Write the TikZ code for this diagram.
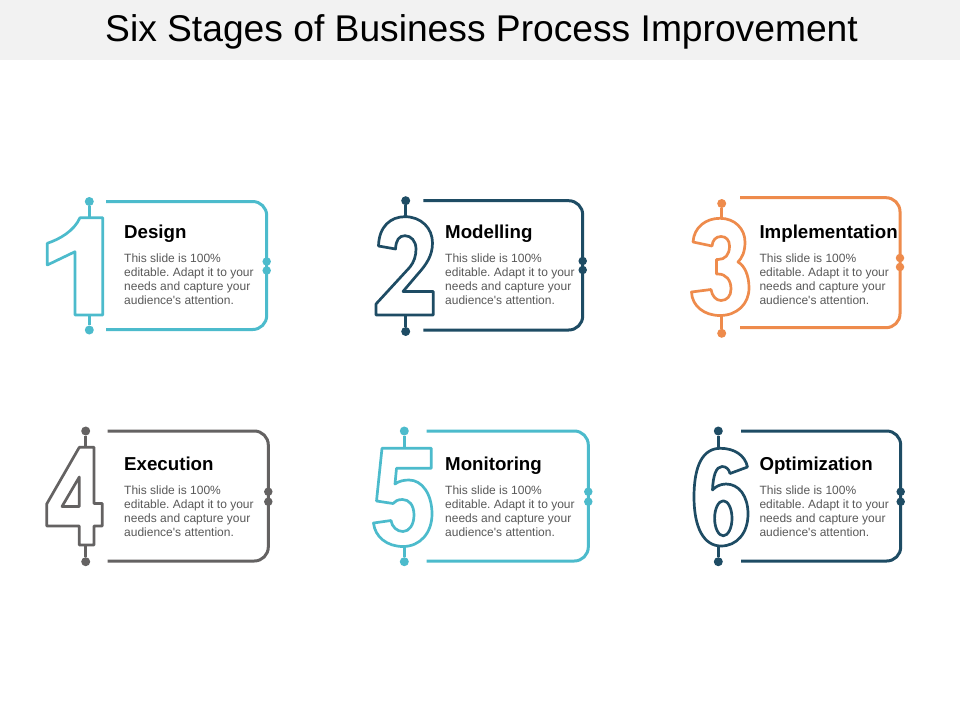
\documentclass[tikz,border=0pt]{standalone}
\usepackage{fontspec}
\setmainfont{Liberation Sans}
\frenchspacing
\definecolor{cteal}{RGB}{76,187,204}
\definecolor{cnavy}{RGB}{30,76,100}
\definecolor{corange}{RGB}{238,139,76}
\definecolor{cgray}{RGB}{100,98,98}
\definecolor{bodygray}{RGB}{89,89,89}
\definecolor{bandgray}{RGB}{242,242,242}
\tikzset{
  cardline/.style={line width=3pt, rounded corners=14pt},
  digitline/.style={line width=2.7pt, line join=round},
  stemline/.style={line width=2.7pt},
  dotnode/.style={circle, fill=#1, draw=none, inner sep=0pt, minimum size=9pt},
  sidedot/.style={circle, fill=#1, draw=none, inner sep=0pt, minimum size=8.5pt},
  ttl/.style={anchor=base west, inner sep=0pt, font=\fontsize{18.7}{22}\selectfont\bfseries, text=black},
  bodytxt/.style={anchor=base west, inner sep=0pt, font=\fontsize{12}{14}\selectfont, text=bodygray},
}
\newcommand{\cardbody}[3]{%
  \node[bodytxt] (#1a) at (#2,#3) {This slide is 100\%};
  \node[bodytxt] (#1b) at (#2,#3+14.1) {editable. Adapt it to your};
  \node[bodytxt] (#1c) at (#2,#3+28.2) {needs and capture your};
  \node[bodytxt] (#1d) at (#2,#3+42.3) {audience\textquotesingle s attention.};
}
\begin{document}
\begin{tikzpicture}[x=1pt,y=-1pt]
\useasboundingbox (0,0) rectangle (960,720);
\fill[white] (0,0) rectangle (960,720);
\fill[bandgray] (0,0) rectangle (960,60);
\node[font=\fontsize{37.2}{42}\selectfont, anchor=base, inner sep=0pt] (title) at (481.5,41.7) {Six Stages of Business Process Improvement};

% ---------- Card 1 ----------
\coordinate (r1a) at (106,201.5);
\coordinate (r1b) at (266.7,201.5);
\coordinate (r1c) at (266.7,329.5);
\coordinate (r1d) at (106,329.5);
\draw[cardline, cteal] (r1a) -- (r1b) -- (r1c) -- (r1d);
\node[sidedot=cteal] (s1a) at (266.7,261.5) {};
\node[sidedot=cteal] (s1b) at (266.7,270.5) {};
\node[dotnode=cteal] (d1t) at (89.3,201.5) {};
\node[dotnode=cteal] (d1b) at (89.3,330) {};
\coordinate (g1t) at (89.3,217.7);
\coordinate (g1b) at (89.3,315);
\draw[stemline, cteal] (d1t) -- (g1t);
\draw[stemline, cteal] (g1b) -- (d1b);
\draw[digitline, cteal] (80,217.7) -- (102.7,217.7) -- (102.7,315) -- (75,315) -- (75,251.7) -- (47.3,265) -- (47.3,243.3)
  .. controls (60,239) and (74,231) .. (80,217.7) -- cycle;
\node[ttl] (t1) at (124,238.3) {Design};
\cardbody{b1}{124}{262.3}

% ---------- Card 2 ----------
\coordinate (r2a) at (423.3,200.7);
\coordinate (r2b) at (582.7,200.7);
\coordinate (r2c) at (582.7,330);
\coordinate (r2d) at (423.3,330);
\draw[cardline, cnavy] (r2a) -- (r2b) -- (r2c) -- (r2d);
\node[sidedot=cnavy] (s2a) at (582.7,261) {};
\node[sidedot=cnavy] (s2b) at (582.7,270) {};
\node[dotnode=cnavy] (d2t) at (405.7,200.7) {};
\node[dotnode=cnavy] (d2b) at (405.7,331.5) {};
\coordinate (g2t) at (405.7,216.7);
\coordinate (g2b) at (405.7,315);
\draw[stemline, cnavy] (d2t) -- (g2t);
\draw[stemline, cnavy] (g2b) -- (d2b);
\draw[digitline, cnavy] (378.5,246) .. controls (379,226) and (391,216.7) .. (405,216.7)
  .. controls (421,216.7) and (432.5,228) .. (432.5,243)
  .. controls (432.5,256) and (426,265) .. (417,275)
  -- (403,291.5) -- (433.3,291.5) -- (433.3,315) -- (376,315) -- (376,304)
  -- (410,267) .. controls (414,262) and (416,256) .. (416,249)
  .. controls (416,241) and (411,235.7) .. (405,235.7)
  .. controls (399,235.7) and (396,240) .. (395.5,249) -- cycle;
\node[ttl] (t2) at (445,238.3) {Modelling};
\cardbody{b2}{445}{262.3}

% ---------- Card 3 ----------
\coordinate (r3a) at (740,197.7);
\coordinate (r3b) at (900,197.7);
\coordinate (r3c) at (900,327.7);
\coordinate (r3d) at (740,327.7);
\draw[cardline, corange] (r3a) -- (r3b) -- (r3c) -- (r3d);
\node[sidedot=corange] (s3a) at (900,258) {};
\node[sidedot=corange] (s3b) at (900,267) {};
\node[dotnode=corange] (d3t) at (721.7,203.5) {};
\node[dotnode=corange] (d3b) at (721.7,333.3) {};
\coordinate (g3t) at (721.7,218.3);
\coordinate (g3b) at (721.7,315.5);
\draw[stemline, corange] (d3t) -- (g3t);
\draw[stemline, corange] (g3b) -- (d3b);
\draw[digitline, corange] (693,242) .. controls (694,227) and (706,218.3) .. (720,218.3)
  .. controls (735,218.3) and (745,229) .. (745,242)
  .. controls (745,252) and (742,258) .. (738,262)
  .. controls (745,266) and (749,276) .. (749,288)
  .. controls (749,304) and (737,315.5) .. (720,315.5)
  .. controls (704,315.5) and (692,306) .. (691.5,292)
  -- (711,289.5)
  .. controls (712,296) and (716,300.5) .. (721,300.5)
  .. controls (727,300.5) and (731,296) .. (731,289)
  .. controls (731,280) and (726,274) .. (718,274)
  -- (716.5,274) -- (716.5,259.5) -- (718,259.5)
  .. controls (725,259.5) and (729.5,255) .. (729.5,246)
  .. controls (729.5,240) and (726,236.5) .. (721,236.5)
  .. controls (716,236.5) and (712.5,240) .. (712,246) -- cycle;
\node[ttl] (t3) at (759.3,238.3) {Implementation};
\cardbody{b3}{759.3}{262.3}

% ---------- Card 4 ----------
\coordinate (r4a) at (107.7,431);
\coordinate (r4b) at (268.3,431);
\coordinate (r4c) at (268.3,561);
\coordinate (r4d) at (107.7,561);
\draw[cardline, cgray] (r4a) -- (r4b) -- (r4c) -- (r4d);
\node[sidedot=cgray] (s4a) at (268.3,491.7) {};
\node[sidedot=cgray] (s4b) at (268.3,501.7) {};
\node[dotnode=cgray] (d4t) at (85.7,431) {};
\node[dotnode=cgray] (d4b) at (85.7,561.7) {};
\coordinate (g4t) at (85.7,447.3);
\coordinate (g4b) at (85.7,545);
\draw[stemline, cgray] (d4t) -- (g4t);
\draw[stemline, cgray] (g4b) -- (d4b);
\draw[digitline, cgray] (79.3,447.3) -- (94,447.3) -- (94,503.5) -- (102.3,503.5) -- (102.3,526) -- (94,526) -- (94,545)
  -- (79.3,545) -- (79.3,526) -- (46.7,526) -- (46.7,504) -- cycle
  (79.3,477) -- (79.3,506.5) -- (62,506.5) -- cycle;
\node[ttl] (t4) at (124,470) {Execution};
\cardbody{b4}{124}{494.3}

% ---------- Card 5 ----------
\coordinate (r5a) at (426.7,431);
\coordinate (r5b) at (588.3,431);
\coordinate (r5c) at (588.3,561);
\coordinate (r5d) at (426.7,561);
\draw[cardline, cteal] (r5a) -- (r5b) -- (r5c) -- (r5d);
\node[sidedot=cteal] (s5a) at (588.3,491.7) {};
\node[sidedot=cteal] (s5b) at (588.3,501.7) {};
\node[dotnode=cteal] (d5t) at (404.3,431) {};
\node[dotnode=cteal] (d5b) at (404.3,561.7) {};
\coordinate (g5t) at (404.3,448.3);
\coordinate (g5b) at (404.3,546.5);
\draw[stemline, cteal] (d5t) -- (g5t);
\draw[stemline, cteal] (g5b) -- (d5b);
\draw[digitline, cteal] (382,448.3) -- (431.3,448.3) -- (431.3,468.3) -- (396.5,468.3) -- (395,484)
  .. controls (399,481) and (404,480) .. (409,480)
  .. controls (422,480) and (432,494) .. (432,514)
  .. controls (432,533) and (420,546.5) .. (403,546.5)
  .. controls (387,546.5) and (375,537) .. (373.5,523)
  -- (391,520.5)
  .. controls (392,527) and (397,531.5) .. (403,531.5)
  .. controls (409,531.5) and (414,525) .. (414,515)
  .. controls (414,505) and (409,499.5) .. (402.5,499.5)
  .. controls (398,499.5) and (395,501) .. (393,503.5)
  -- (376.5,501) -- cycle;
\node[ttl] (t5) at (445,470) {Monitoring};
\cardbody{b5}{445}{494.3}

% ---------- Card 6 ----------
\coordinate (r6a) at (741,431);
\coordinate (r6b) at (900.7,431);
\coordinate (r6c) at (900.7,561);
\coordinate (r6d) at (741,561);
\draw[cardline, cnavy] (r6a) -- (r6b) -- (r6c) -- (r6d);
\node[sidedot=cnavy] (s6a) at (900.7,491.7) {};
\node[sidedot=cnavy] (s6b) at (900.7,501.7) {};
\node[dotnode=cnavy] (d6t) at (718.3,431) {};
\node[dotnode=cnavy] (d6b) at (718.3,561.7) {};
\coordinate (g6t) at (718.3,448.3);
\coordinate (g6b) at (718.3,546);
\draw[stemline, cnavy] (d6t) -- (g6t);
\draw[stemline, cnavy] (g6b) -- (d6b);
\draw[digitline, cnavy] (747.5,467) .. controls (745,455) and (734,448.3) .. (720.5,448.3)
  .. controls (703,448.3) and (694,465) .. (694,497)
  .. controls (694,528) and (704,546) .. (721,546)
  .. controls (737,546) and (748,533) .. (748,514)
  .. controls (748,496) and (739,484) .. (726,484)
  .. controls (720,484) and (715,487) .. (712.5,490)
  .. controls (713,476) and (716,466.5) .. (722,466.5)
  .. controls (726,466.5) and (729,469) .. (730,473.5) -- cycle
  (723.3,518.3) ellipse [x radius=8.7, y radius=17.5];
\node[ttl] (t6) at (759.3,470) {Optimization};
\cardbody{b6}{759.3}{494.3}
\end{tikzpicture}
\end{document}
